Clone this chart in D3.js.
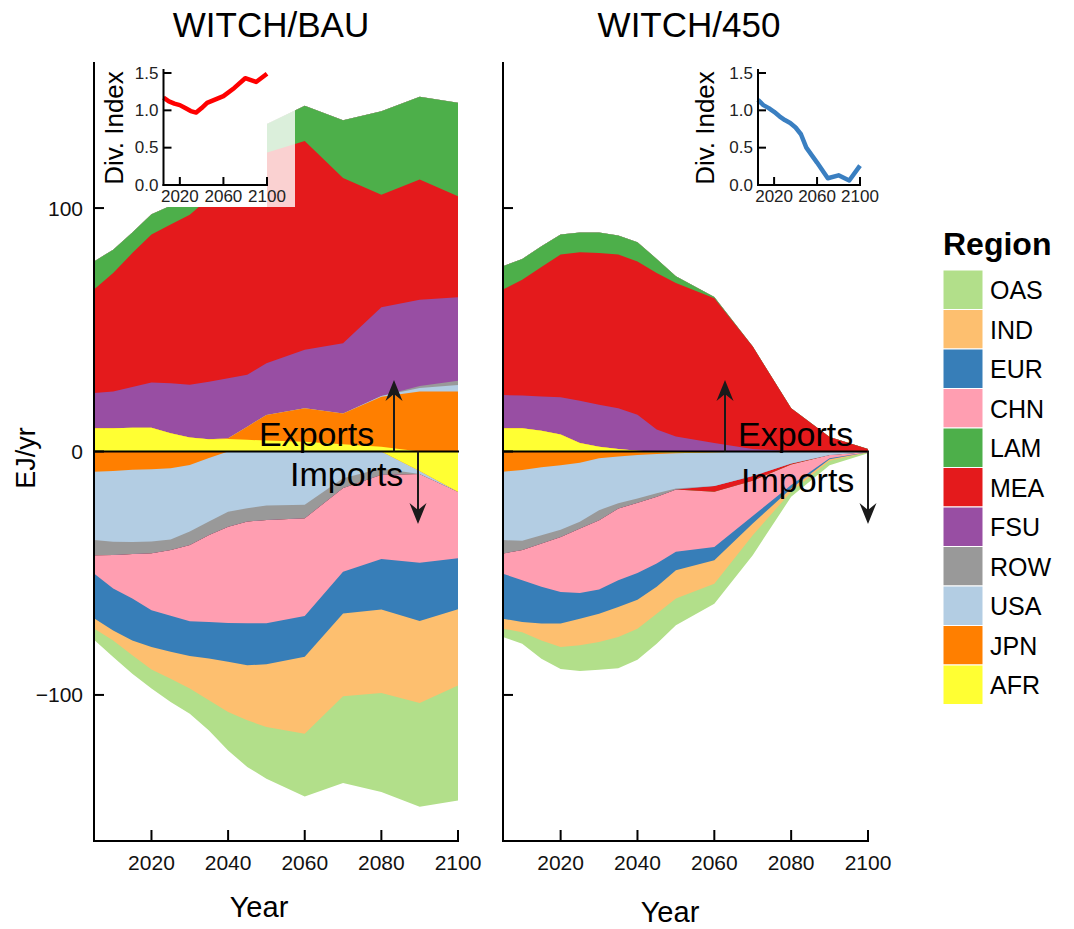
<!DOCTYPE html>
<html>
<head>
<meta charset="utf-8">
<title>WITCH energy trade by region</title>
<script src="https://d3js.org/d3.v7.min.js"></script>
<style>
  body { margin: 0; background: #fff; }
  svg { font-family: "Liberation Sans", Arial, Helvetica, sans-serif; }
</style>
</head>
<body>
<script>
// years of the model periods
var years = [2005, 2010, 2015, 2020, 2025, 2030, 2035, 2040, 2045, 2050, 2060, 2070, 2080, 2090, 2100];

// legend order (top of legend first); stacking goes the other way round
var regions = ["OAS", "IND", "EUR", "CHN", "LAM", "MEA", "FSU", "ROW", "USA", "JPN", "AFR"];
var regionColors = ["#b2df8a", "#fdbf6f", "#377eb8", "#ff9eb1", "#4daf4a", "#e41a1c",
                    "#984ea3", "#999999", "#b3cde3", "#ff7f00", "#ffff33"];

// EJ/yr, exports (positive) and imports (negative)
var bauExports = {
  AFR: [9.5, 9.5, 9.8, 9.8, 7.5, 5.8, 5.0, 5.1, 4.8, 4.5, 4.0, 3.0, 2.0, 0, 0],
  JPN: [0, 0, 0, 0, 0, 0, 0, 0.3, 5.4, 10.5, 13.8, 12.6, 20.5, 24.6, 24.6],
  USA: [0, 0, 0, 0, 0, 0, 0, 0, 0, 0, 0, 0, 0.3, 1.5, 2.7],
  ROW: [0, 0, 0, 0, 0, 0, 0, 0, 0, 0, 0, 0, 0, 0.8, 1.8],
  FSU: [14.5, 15.1, 16.7, 18.5, 20.5, 21.6, 23.7, 24.7, 21.3, 21.3, 24.0, 28.9, 36.5, 35.4, 34.3],
  MEA: [42.5, 48.7, 55.0, 60.8, 65.2, 69.9, 75.3, 79.9, 84.5, 86.4, 85.7, 67.9, 46.2, 49.4, 41.5],
  LAM: [11.6, 9.6, 8.5, 8.4, 7.8, 8.7, 8.0, 8.0, 10.0, 11.7, 14.5, 23.7, 34.3, 34.0, 38.4]
};
var bauImports = {
  AFR: [0, 0, 0, 0, 0, 0, 0, 0, 0, 0, 0, 0, 0, -8, -16.5],
  JPN: [-8.3, -8.0, -7.5, -7.3, -6.9, -5.5, -2.7, 0, 0, 0, 0, 0, 0, 0, 0],
  USA: [-28.1, -29.1, -29.7, -29.7, -29.2, -27.4, -26.1, -24.7, -23.3, -22.2, -21.9, -11, -7, -1.2, 0],
  ROW: [-6.2, -5.4, -4.9, -4.8, -4.4, -5.5, -5.5, -6.2, -5.5, -5.9, -5.5, -4, -2.6, 0, 0],
  CHN: [-7.5, -13.8, -18.3, -23.4, -27.0, -31.3, -35.7, -39.5, -41.8, -42.5, -40.2, -34.4, -34.6, -36.5, -27.4],
  EUR: [-18.4, -17.2, -17.2, -15.1, -14.8, -14.3, -15.0, -16.0, -17.2, -16.8, -16.7, -17.1, -20.7, -23.9, -20.9],
  IND: [-4.2, -4.1, -6.1, -9.3, -11.0, -13.4, -17.2, -20.6, -22.6, -25.8, -31.6, -34.0, -34.3, -33.7, -31.3],
  OAS: [-4.6, -6.8, -7.6, -7.8, -9.6, -10.3, -12.4, -15.8, -19.2, -21.2, -25.8, -35.7, -40.7, -42.6, -47.3]
};
var lowExports = {
  AFR: [9.5, 9.5, 8.5, 7.0, 3.5, 2.0, 1.0, 0.3, 0, 0, 0, 0, 0, 0, 0],
  FSU: [13.7, 13.5, 14.1, 15.3, 17.3, 17.2, 16.8, 14.8, 9.0, 6.2, 3.5, 1.0, 0.2, 0, 0],
  MEA: [43.3, 47.6, 53.2, 58.6, 61.1, 62.3, 63.1, 63.0, 64.3, 63.0, 59.5, 42.1, 17.6, 6.0, 1.0],
  LAM: [9.6, 8.5, 8.5, 8.2, 8.1, 8.5, 7.8, 7.9, 5.8, 2.8, 0.5, 0, 0, 0, 0]
};
var lowImports = {
  AFR: [0, 0, 0, 0, 0, 0, 0, -0.3, -0.4, -0.5, -0.3, 0, 0, 0, 0],
  JPN: [-8.3, -7.6, -6.5, -5.6, -4.6, -2.8, -2.1, -1.1, -0.6, -0.2, 0, 0, 0, 0, 0],
  USA: [-28.1, -29.1, -27.9, -26.5, -24.3, -21.3, -19.2, -17.9, -16.2, -14.5, -13.9, -10.1, -4.9, -1.4, -0.2],
  ROW: [-5.5, -3.8, -3.4, -3.0, -2.7, -4.1, -2.1, -1.8, -1.4, -0.4, 0, 0, 0, 0, 0],
  MEA: [0, 0, 0, 0, 0, 0, 0, 0, 0, 0, -2.3, -1.9, -0.4, 0, 0],
  CHN: [-8.3, -12.4, -17.8, -22.6, -26.5, -28.5, -29.5, -28.8, -27.4, -25.6, -22.7, -14.5, -8.5, -1.4, -0.1],
  EUR: [-18.5, -17.1, -15.1, -13.0, -10.6, -9.9, -11.0, -11.0, -9.6, -7.6, -5.5, -3.1, -1.4, -0.4, 0],
  IND: [-4.1, -4.2, -6.9, -9.6, -10.9, -11.7, -12.3, -11.9, -11.0, -11.6, -9.6, -4.8, -1.3, -0.6, -0.1],
  OAS: [-3.4, -4.8, -7.5, -9.0, -10.6, -11.4, -12.8, -12.7, -12.4, -11.0, -8.2, -8.2, -2.1, -1.8, -0.3]
};

// diversity index for the insets
var bauDiv = [1.17, 1.12, 1.09, 1.07, 1.03, 0.99, 0.97, 1.03, 1.10, 1.13, 1.19, 1.30, 1.43, 1.38, 1.49];
var lowDiv = [1.14, 1.07, 1.03, 0.98, 0.92, 0.87, 0.83, 0.77, 0.68, 0.50, 0.30, 0.09, 0.13, 0.06, 0.26];

var yTicks = [-100, 0, 100];
var xTicks = [2020, 2040, 2060, 2080, 2100];
var insetYTicks = [0, 0.5, 1, 1.5];
var insetXTicks = [2020, 2060, 2100];

var width = 1074, height = 929;
var svg = d3.select("body").append("svg")
  .attr("width", width)
  .attr("height", height);

var color = d3.scaleOrdinal().domain(regions).range(regionColors);
var stackOrder = regions.slice().reverse();   // AFR sits next to zero
var stack = d3.stack().keys(stackOrder);

var y = d3.scaleLinear().domain([-160, 160]).range([841, 62]);

function rows(src) {
  return years.map(function(yr, i) {
    var r = { year: yr };
    regions.forEach(function(k) { r[k] = src[k] ? src[k][i] : 0; });
    return r;
  });
}

function label(g, x, yy, str, size, anchor, opts) {
  opts = opts || {};
  var t = g.append("text")
    .attr("x", x).attr("y", yy)
    .attr("font-size", size)
    .attr("text-anchor", anchor || "start")
    .attr("fill", "#000")
    .text(str);
  if (opts.bold) t.attr("font-weight", "bold");
  if (opts.mid) t.attr("dominant-baseline", "central");
  if (opts.rotate) t.attr("transform", "rotate(-90," + x + "," + yy + ")");
  return t;
}

function arrow(g, x, y0, y1) {
  var dir = y1 < y0 ? 1 : -1;   // 1 = up
  g.append("line")
    .attr("x1", x).attr("x2", x)
    .attr("y1", y0).attr("y2", y1 + dir * 12)
    .attr("stroke", "#1a1a1a").attr("stroke-width", 2);
  g.append("path")
    .attr("d", "M" + x + "," + y1 +
      "L" + (x - 8.5) + "," + (y1 + dir * 21) +
      "L" + x + "," + (y1 + dir * 14) +
      "L" + (x + 8.5) + "," + (y1 + dir * 21) + "Z")
    .attr("fill", "#1a1a1a");
}

function panel(opt) {
  var g = svg.append("g");
  var x = d3.scaleLinear().domain([2005, 2100]).range([opt.x0, opt.x1]);

  // draw outer layers first, each from zero to its cumulative edge, so no seams show
  [opt.exports, opt.imports].forEach(function(src) {
    var series = stack(rows(src));
    var area = d3.area()
      .x(function(d) { return x(d.data.year); })
      .y0(y(0))
      .y1(function(d) { return y(d[1]); });
    g.selectAll(null)
      .data(series.slice().reverse())
      .enter().append("path")
      .attr("d", area)
      .attr("fill", function(d) { return color(d.key); });
  });

  // zero line
  g.append("line")
    .attr("x1", opt.x0).attr("x2", opt.x1 + 1)
    .attr("y1", y(0)).attr("y2", y(0))
    .attr("stroke", "#000").attr("stroke-width", 2);

  // annotations
  label(g, opt.expX, 446, "Exports", 34, "start");
  label(g, opt.impX, opt.impY, "Imports", 34, "start");
  arrow(g, opt.upX, y(0), 380);
  arrow(g, opt.downX, y(0), 524);

  // axes
  var ax = g.append("g").attr("stroke", "#000").attr("stroke-width", 2);
  ax.append("line").attr("x1", opt.x0).attr("x2", opt.x0).attr("y1", 62).attr("y2", 842);
  ax.append("line").attr("x1", opt.x0 - 1).attr("x2", opt.x1 + 1).attr("y1", 841).attr("y2", 841);
  ax.selectAll(null).data(yTicks).enter().append("line")
    .attr("x1", opt.x0).attr("x2", opt.x0 + 10)
    .attr("y1", function(d) { return y(d); }).attr("y2", function(d) { return y(d); });
  ax.selectAll(null).data(xTicks).enter().append("line")
    .attr("x1", function(d) { return x(d); }).attr("x2", function(d) { return x(d); })
    .attr("y1", 841).attr("y2", 830);

  xTicks.forEach(function(t) { label(g, x(t), 870, String(t), 21, "middle").attr("fill", "#111"); });
  if (opt.yLabels) {
    yTicks.forEach(function(t) {
      label(g, opt.x0 - 11, y(t), t < 0 ? "\u2212" + Math.abs(t) : String(t), 21, "end", { mid: true })
        .attr("fill", "#111");
    });
    label(g, 26, 458, "EJ/yr", 27, "middle", { rotate: true, mid: true });
  }
  label(g, opt.titleX, 37, opt.title, 35, "middle");
  label(g, opt.yearX, opt.yearY, "Year", 29, "middle");

  // inset with the diversity index
  var ins = opt.inset;
  g.append("rect")
    .attr("x", ins.bx0).attr("y", 62).attr("width", ins.bx1 - ins.bx0).attr("height", 145)
    .attr("fill", "#fff").attr("fill-opacity", 0.8);
  g.append("rect")
    .attr("x", ins.bx0).attr("y", 62).attr("width", ins.x1 - ins.bx0).attr("height", 145)
    .attr("fill", "#fff");
  var ix = d3.scaleLinear().domain([2005, 2100]).range([ins.x0, ins.x1]);
  var iy = d3.scaleLinear().domain([0, 1.5]).range([185, 73]);
  var ig = g.append("g");
  ig.append("path")
    .datum(years.map(function(yr, i) { return [yr, ins.values[i]]; }))
    .attr("d", d3.line().x(function(d) { return ix(d[0]); }).y(function(d) { return iy(d[1]); }))
    .attr("fill", "none")
    .attr("stroke", ins.color)
    .attr("stroke-width", 4.5)
    .attr("stroke-linejoin", "round")
    .attr("stroke-linecap", "butt");
  var iax = ig.append("g").attr("stroke", "#000").attr("stroke-width", 2);
  iax.append("line").attr("x1", ins.x0).attr("x2", ins.x0).attr("y1", 69).attr("y2", 186);
  iax.append("line").attr("x1", ins.x0 - 1).attr("x2", ins.x1 + 1).attr("y1", 185).attr("y2", 185);
  iax.selectAll(null).data(insetYTicks).enter().append("line")
    .attr("x1", ins.x0).attr("x2", ins.x0 + 8)
    .attr("y1", function(d) { return iy(d); }).attr("y2", function(d) { return iy(d); });
  iax.selectAll(null).data(insetXTicks).enter().append("line")
    .attr("x1", function(d) { return ix(d); }).attr("x2", function(d) { return ix(d); })
    .attr("y1", 185).attr("y2", 177);
  insetYTicks.forEach(function(t) {
    label(ig, ins.x0 - 5, iy(t), t.toFixed(1), 17, "end", { mid: true }).attr("fill", "#222");
  });
  insetXTicks.forEach(function(t) {
    label(ig, ix(t), 202, String(t), 17, "middle").attr("fill", "#222");
  });
  label(ig, ins.labelX, 128, "Div. Index", 26, "middle", { rotate: true, mid: true });
}

panel({
  x0: 94, x1: 458, title: "WITCH/BAU", titleX: 271, yearX: 259, yearY: 917,
  exports: bauExports, imports: bauImports, yLabels: true,
  expX: 259, impX: 290, impY: 486, upX: 394, downX: 418,
  inset: { bx0: 95, bx1: 295, x0: 163.5, x1: 267, values: bauDiv, color: "#ff0000", labelX: 114 }
});

panel({
  x0: 503, x1: 868, title: "WITCH/450", titleX: 689, yearX: 670, yearY: 922,
  exports: lowExports, imports: lowImports, yLabels: false,
  expX: 738, impX: 741, impY: 492, upX: 725, downX: 868,
  inset: { bx0: 690, bx1: 880, x0: 758, x1: 860, values: lowDiv, color: "#3a7fc1", labelX: 705 }
});

// legend
var lg = svg.append("g");
label(lg, 943, 255, "Region", 32, "start", { bold: true });
lg.selectAll(null).data(regions).enter().append("rect")
  .attr("x", 943)
  .attr("y", function(d, i) { return 270 + i * 39.5; })
  .attr("width", 40).attr("height", 39.5)
  .attr("fill", function(d) { return color(d); })
  .attr("stroke", "#fff").attr("stroke-width", 1);
regions.forEach(function(r, i) {
  label(lg, 990, 270 + i * 39.5 + 20, r, 25, "start", { mid: true });
});
</script>
</body>
</html>
